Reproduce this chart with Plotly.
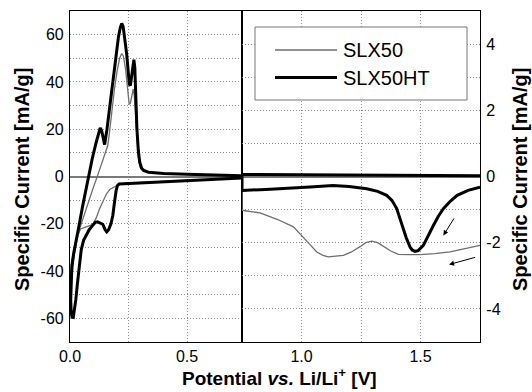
import plotly.graph_objects as go

# ---------------- data ----------------
SERIES_NAMES = ["SLX50", "SLX50HT"]

# Low-potential window (0 - 0.735 V), left current scale [mA/g]
# each loop: cathodic sweep (high -> low potential), then anodic sweep back
slx50_low_v = [0.735, 0.65, 0.55, 0.45, 0.35, 0.28, 0.24, 0.21, 0.198, 0.185, 0.17, 0.155,
               0.14, 0.125, 0.112, 0.1, 0.09, 0.075, 0.06, 0.045, 0.035, 0.025, 0.016, 0.009,
               0.004,
               0.002, 0.002, 0.006, 0.015, 0.03, 0.045, 0.07, 0.095, 0.12, 0.14, 0.152, 0.161,
               0.168, 0.178, 0.19, 0.202, 0.212, 0.221, 0.228, 0.238, 0.247, 0.253, 0.258,
               0.264, 0.27, 0.275, 0.28, 0.286, 0.292, 0.3, 0.31, 0.335, 0.4, 0.5, 0.6, 0.735]
slx50_low_i = [-0.6, -1.0, -1.5, -1.9, -2.3, -2.6, -2.8, -3.3, -3.9, -4.5, -5.5, -7.5,
               -10.5, -14, -17.5, -19.8, -20.6, -21.2, -21.6, -22.2, -24.5, -29, -35, -41,
               -46,
               -47, -43, -37, -31, -25, -21, -13, -6, 1, 6.5, 10, 13,
               18, 27, 37, 45, 50, 52, 51, 45, 36, 30.5, 31,
               34, 37, 34, 25, 15, 8, 4, 2.4, 1.6, 1.2, 0.9, 0.6, 0.3]

slx50ht_low_v = [0.735, 0.65, 0.55, 0.45, 0.35, 0.28, 0.24, 0.21, 0.203, 0.197, 0.19, 0.183,
                 0.175, 0.165, 0.157, 0.15, 0.14, 0.13, 0.118, 0.108, 0.1, 0.092, 0.082, 0.07,
                 0.058, 0.048, 0.04, 0.032, 0.025, 0.019, 0.014,
                 0.009, 0.005, 0.003, 0.004, 0.008, 0.015, 0.028, 0.04, 0.055, 0.076, 0.095,
                 0.112, 0.123, 0.129, 0.135, 0.142, 0.148, 0.158, 0.178, 0.195, 0.207, 0.215,
                 0.221, 0.227, 0.235, 0.242, 0.249, 0.254, 0.258, 0.263, 0.268, 0.273, 0.277,
                 0.281, 0.286, 0.292, 0.298, 0.306, 0.315, 0.335, 0.4, 0.5, 0.6, 0.735]
slx50ht_low_i = [-0.6, -1.0, -1.5, -1.9, -2.3, -2.6, -2.8, -3.2, -3.8, -6, -11, -16.5,
                 -20, -22.5, -23.4, -22.5, -20.2, -19.6, -19.2, -19.4, -20.2, -21.3, -22.5, -24.5,
                 -27, -31, -37, -45, -52, -57, -59.6,
                 -59.5, -57.5, -52, -44, -38, -33, -27, -20, -12, -1.5, 7.5,
                 14.5, 18.5, 20.5, 19.5, 16, 13.5, 20, 36, 50, 59, 63,
                 64.7, 63.5, 58, 52, 44, 39, 38.5, 42, 47.5, 49.4, 46,
                 33, 20, 11, 6, 3.5, 2.6, 1.8, 1.3, 1.0, 0.7, 0.3]

# High-potential window (0.75 - 1.75 V), right current scale [mA/g]
slx50_high_v = [1.75, 1.736, 1.68, 1.624, 1.56, 1.498, 1.45, 1.407, 1.375, 1.344, 1.32, 1.295,
                1.27, 1.246, 1.21, 1.176, 1.14, 1.113, 1.09, 1.064, 1.035, 1.008, 0.985, 0.966,
                0.9, 0.826, 0.75,
                0.75, 1.0, 1.25, 1.5, 1.75]
slx50_high_i = [-2.08, -2.1, -2.2, -2.28, -2.33, -2.36, -2.36, -2.35, -2.25, -2.12, -2.0, -1.95,
                -2.0, -2.12, -2.28, -2.38, -2.42, -2.43, -2.38, -2.28, -2.05, -1.83, -1.65, -1.52,
                -1.3, -1.1, -1.02,
                0.05, 0.04, 0.03, 0.03, 0.02]

slx50ht_high_v = [1.75, 1.7, 1.654, 1.625, 1.596, 1.575, 1.554, 1.53, 1.512, 1.49, 1.477, 1.465,
                  1.456, 1.44, 1.428, 1.41, 1.4, 1.38, 1.358, 1.32, 1.274, 1.2, 1.132, 1.036,
                  0.95, 0.85, 0.75,
                  0.75, 1.0, 1.25, 1.5, 1.75]
slx50ht_high_i = [-0.32, -0.42, -0.57, -0.75, -0.97, -1.2, -1.48, -1.82, -2.08, -2.24, -2.26, -2.22,
                  -2.13, -1.85, -1.58, -1.2, -0.97, -0.72, -0.57, -0.45, -0.37, -0.3, -0.27, -0.32,
                  -0.36, -0.39, -0.42,
                  0.06, 0.05, 0.04, 0.03, 0.02]

# axis ticks
x_low_ticks = [0.0, 0.25, 0.5]
x_low_labels = ["0.0", "", "0.5"]
x_high_ticks = [1.0, 1.25, 1.5]
x_high_labels = ["1.0", "", "1.5"]
y_low_ticks = list(range(-60, 61, 10))
y_low_labels = [str(v) if v % 20 == 0 else "" for v in y_low_ticks]
y_high_ticks = list(range(-4, 5))
y_high_labels = [str(v) if v % 2 == 0 else "" for v in y_high_ticks]

# ---------------- styling ----------------
FONT = "Liberation Sans, Arial, Helvetica, sans-serif"
THIN = dict(color="#6e6e6e", width=1.3)
THICK = dict(color="black", width=3)
W, H = 532, 392
ML, MR, MT, MB = 70, 52, 11, 50
SPLIT = 172 / (W - ML - MR)  # fraction of plot width used by the low-potential panel

fig = go.Figure()
fig.add_trace(go.Scatter(x=slx50_low_v, y=slx50_low_i, mode="lines", line=THIN,
                         xaxis="x", yaxis="y", showlegend=False))
fig.add_trace(go.Scatter(x=slx50ht_low_v, y=slx50ht_low_i, mode="lines", line=THICK,
                         xaxis="x", yaxis="y", showlegend=False))
fig.add_trace(go.Scatter(x=slx50_high_v, y=slx50_high_i, mode="lines", line=THIN,
                         xaxis="x2", yaxis="y2", showlegend=False))
fig.add_trace(go.Scatter(x=slx50ht_high_v, y=slx50ht_high_i, mode="lines", line=THICK,
                         xaxis="x2", yaxis="y2", showlegend=False))

common_axis = dict(showline=True, linecolor="black", linewidth=1.2, mirror=True,
                   showgrid=True, gridcolor="#909090", griddash="1px,2px", gridwidth=1,
                   ticks="", tickfont=dict(family=FONT, size=16, color="black"))

fig.update_layout(
    width=W, height=H, autosize=False,
    margin=dict(l=ML, r=MR, t=MT, b=MB),
    paper_bgcolor="white", plot_bgcolor="white",
    font=dict(family=FONT, color="black"),
    showlegend=False,
    xaxis=dict(domain=[0, SPLIT], range=[0, 0.735], anchor="y",
               tickmode="array", tickvals=x_low_ticks, ticktext=x_low_labels,
               zeroline=False, **common_axis),
    xaxis2=dict(domain=[SPLIT, 1], range=[0.75, 1.75], anchor="y2",
                tickmode="array", tickvals=x_high_ticks, ticktext=x_high_labels,
                zeroline=False, **common_axis),
    yaxis=dict(domain=[0, 1], range=[-70, 70], anchor="x",
               tickmode="array", tickvals=y_low_ticks, ticktext=y_low_labels,
               zeroline=True, zerolinecolor="#7a7a7a", zerolinewidth=1.5,
               ticklabelstandoff=2, **common_axis),
    yaxis2=dict(domain=[0, 1], range=[-5, 5], anchor="x2", side="right",
                tickmode="array", tickvals=y_high_ticks, ticktext=y_high_labels,
                zeroline=True, zerolinecolor="#7a7a7a", zerolinewidth=1.5,
                ticklabelstandoff=2, **common_axis),
)


def px_x(p):
    return (p - ML) / (W - ML - MR)


def px_y(p):
    return (H - MB - p) / (H - MT - MB)


# legend box drawn with its own line samples
fig.add_shape(type="rect", xref="paper", yref="paper",
              x0=px_x(255), x1=px_x(467), y0=px_y(100), y1=px_y(27),
              line=dict(color="#777777", width=1), fillcolor="white", layer="above")
for row_y, name, style in [(50, SERIES_NAMES[0], THIN), (77.5, SERIES_NAMES[1], THICK)]:
    fig.add_shape(type="line", xref="paper", yref="paper",
                  x0=px_x(275), x1=px_x(337), y0=px_y(row_y), y1=px_y(row_y),
                  line=style, layer="above")
    fig.add_annotation(xref="paper", yref="paper", x=px_x(341), y=px_y(row_y),
                       text=name, showarrow=False, xanchor="left", yanchor="middle",
                       font=dict(family=FONT, size=20, color="black"))

# sweep direction arrows
for (x0, y0, x1, y1) in [(1.645, -1.22, 1.596, -1.78), (1.736, -2.43, 1.62, -2.66)]:
    fig.add_annotation(xref="x2", yref="y2", axref="x2", ayref="y2",
                       x=x1, y=y1, ax=x0, ay=y0, text="", showarrow=True,
                       arrowhead=2, arrowsize=1.0, arrowwidth=1, arrowcolor="black")

# axis titles
title_font = dict(family=FONT, size=19, color="black")
fig.add_annotation(xref="paper", yref="paper", x=px_x(279), y=px_y(390),
                   text="<b>Potential <i>vs.</i> Li/Li<sup>+</sup> [V]</b>",
                   showarrow=False, xanchor="center", yanchor="bottom", font=title_font,
                   borderpad=0)
fig.add_annotation(xref="paper", yref="paper", x=px_x(22), y=px_y(180),
                   text="<b>Specific Current [mA/g]</b>", textangle=-90,
                   showarrow=False, xanchor="center", yanchor="middle",
                   font=dict(family=FONT, size=20, color="black"), borderpad=0)
fig.add_annotation(xref="paper", yref="paper", x=px_x(520), y=px_y(180),
                   text="<b>Specific Current [mA/g]</b>", textangle=-90,
                   showarrow=False, xanchor="center", yanchor="middle",
                   font=dict(family=FONT, size=20, color="black"), borderpad=0)

fig.write_html("out.html")
